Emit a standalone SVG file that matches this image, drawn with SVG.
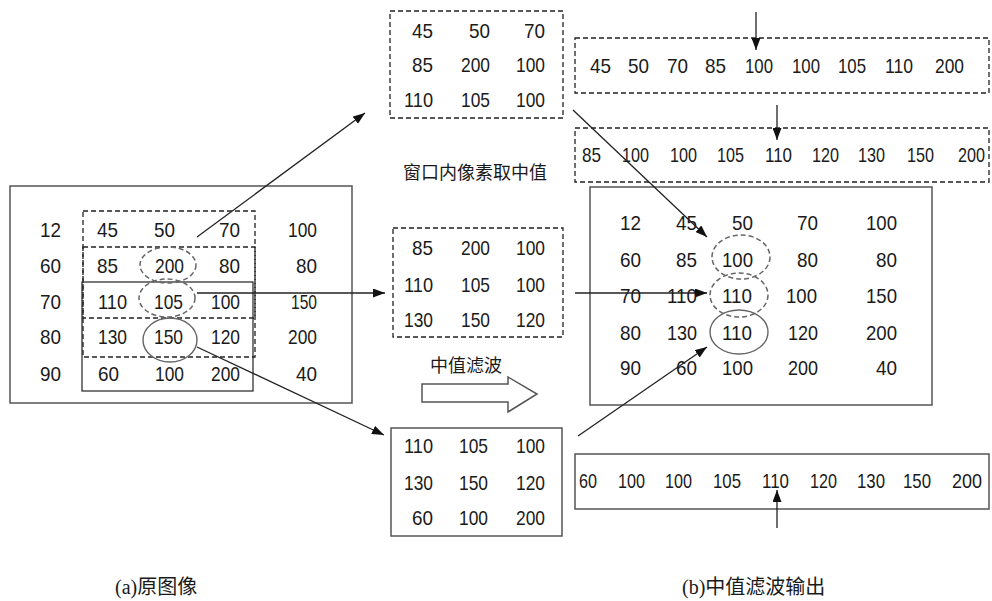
<svg xmlns="http://www.w3.org/2000/svg" width="992" height="601" viewBox="0 0 992 601">
<defs>
<style>
.n{font-family:"Liberation Sans",Arial,sans-serif;font-size:21px;fill:#1a1a1a}
.e{text-anchor:end}
.box{fill:none;stroke:#555;stroke-width:1.5}
.dbox{fill:none;stroke:#222;stroke-width:1.3;stroke-dasharray:5 3}
.cd{fill:none;stroke:#666;stroke-width:1.5;stroke-dasharray:5 3}
.cs{fill:none;stroke:#666;stroke-width:1.4}
.ln{fill:none;stroke:#222;stroke-width:1.3;marker-end:url(#ah)}
.cj{font-family:"Noto Sans CJK SC",sans-serif;font-size:18px;fill:#1a1a1a}
.cap{font-family:"Liberation Serif","Noto Sans CJK SC",serif;font-size:20px;fill:#1a1a1a}
</style>
<marker id="ah" markerUnits="userSpaceOnUse" markerWidth="13" markerHeight="9" refX="12" refY="4.5" orient="auto">
<path d="M0,0 L12,4.5 L0,9 z" fill="#111"/>
</marker>
</defs>
<rect width="992" height="601" fill="#fff"/>

<g id="left-image">
<rect class="box" x="10" y="186" width="342" height="217"/>
<rect class="box" x="82" y="282" width="171" height="109" style="stroke:#333;stroke-width:1.3"/>
<rect class="dbox" x="83" y="211" width="172" height="107"/>
<rect class="dbox" x="83" y="247" width="172" height="110"/>
<ellipse class="cd" cx="168" cy="265" rx="28" ry="18"/>
<ellipse class="cd" cx="167" cy="298" rx="28" ry="19"/>
<ellipse class="cs" cx="170" cy="340" rx="27" ry="22"/>
<g class="n">
<text x="40" y="237" textLength="21" lengthAdjust="spacingAndGlyphs">12</text>
<text x="97" y="237" textLength="21" lengthAdjust="spacingAndGlyphs">45</text>
<text x="154" y="237" textLength="21" lengthAdjust="spacingAndGlyphs">50</text>
<text class="e" x="240" y="237" textLength="21" lengthAdjust="spacingAndGlyphs">70</text>
<text class="e" x="317" y="237" textLength="29" lengthAdjust="spacingAndGlyphs">100</text>
<text x="40" y="273" textLength="21" lengthAdjust="spacingAndGlyphs">60</text>
<text x="97" y="273" textLength="21" lengthAdjust="spacingAndGlyphs">85</text>
<text x="155" y="273" textLength="29" lengthAdjust="spacingAndGlyphs">200</text>
<text class="e" x="240" y="273" textLength="21" lengthAdjust="spacingAndGlyphs">80</text>
<text class="e" x="317" y="273" textLength="21" lengthAdjust="spacingAndGlyphs">80</text>
<text x="40" y="309" textLength="21" lengthAdjust="spacingAndGlyphs">70</text>
<text x="98" y="309" textLength="29" lengthAdjust="spacingAndGlyphs">110</text>
<text x="154" y="309" textLength="29" lengthAdjust="spacingAndGlyphs">105</text>
<text class="e" x="240" y="309" textLength="29" lengthAdjust="spacingAndGlyphs">100</text>
<text class="e" x="317" y="309" textLength="26" lengthAdjust="spacingAndGlyphs">150</text>
<text x="40" y="344" textLength="21" lengthAdjust="spacingAndGlyphs">80</text>
<text x="98" y="344" textLength="29" lengthAdjust="spacingAndGlyphs">130</text>
<text x="154" y="344" textLength="29" lengthAdjust="spacingAndGlyphs">150</text>
<text class="e" x="240" y="344" textLength="29" lengthAdjust="spacingAndGlyphs">120</text>
<text class="e" x="317" y="344" textLength="29" lengthAdjust="spacingAndGlyphs">200</text>
<text x="40" y="381" textLength="21" lengthAdjust="spacingAndGlyphs">90</text>
<text x="98" y="381" textLength="21" lengthAdjust="spacingAndGlyphs">60</text>
<text x="155" y="381" textLength="29" lengthAdjust="spacingAndGlyphs">100</text>
<text class="e" x="240" y="381" textLength="29" lengthAdjust="spacingAndGlyphs">200</text>
<text class="e" x="317" y="381" textLength="21" lengthAdjust="spacingAndGlyphs">40</text>
</g>
</g>

<g id="window-top">
<rect class="dbox" x="390" y="11" width="173" height="107"/>
<g class="n e">
<text x="433" y="38" textLength="21" lengthAdjust="spacingAndGlyphs">45</text>
<text x="490" y="38" textLength="21" lengthAdjust="spacingAndGlyphs">50</text>
<text x="545" y="38" textLength="21" lengthAdjust="spacingAndGlyphs">70</text>
<text x="433" y="72" textLength="21" lengthAdjust="spacingAndGlyphs">85</text>
<text x="490" y="72" textLength="29" lengthAdjust="spacingAndGlyphs">200</text>
<text x="545" y="72" textLength="29" lengthAdjust="spacingAndGlyphs">100</text>
<text x="433" y="107" textLength="29" lengthAdjust="spacingAndGlyphs">110</text>
<text x="490" y="107" textLength="29" lengthAdjust="spacingAndGlyphs">105</text>
<text x="545" y="107" textLength="29" lengthAdjust="spacingAndGlyphs">100</text>
</g>
</g>

<g id="window-middle">
<rect class="dbox" x="393" y="228" width="170" height="109"/>
<g class="n e">
<text x="433" y="255" textLength="21" lengthAdjust="spacingAndGlyphs">85</text>
<text x="490" y="255" textLength="29" lengthAdjust="spacingAndGlyphs">200</text>
<text x="545" y="255" textLength="29" lengthAdjust="spacingAndGlyphs">100</text>
<text x="433" y="292" textLength="29" lengthAdjust="spacingAndGlyphs">110</text>
<text x="490" y="292" textLength="29" lengthAdjust="spacingAndGlyphs">105</text>
<text x="545" y="292" textLength="29" lengthAdjust="spacingAndGlyphs">100</text>
<text x="433" y="327" textLength="29" lengthAdjust="spacingAndGlyphs">130</text>
<text x="490" y="327" textLength="29" lengthAdjust="spacingAndGlyphs">150</text>
<text x="545" y="327" textLength="29" lengthAdjust="spacingAndGlyphs">120</text>
</g>
</g>

<g id="window-bottom">
<rect class="box" x="391" y="428" width="171" height="108"/>
<g class="n e">
<text x="433" y="453" textLength="29" lengthAdjust="spacingAndGlyphs">110</text>
<text x="488" y="453" textLength="29" lengthAdjust="spacingAndGlyphs">105</text>
<text x="545" y="453" textLength="29" lengthAdjust="spacingAndGlyphs">100</text>
<text x="433" y="490" textLength="29" lengthAdjust="spacingAndGlyphs">130</text>
<text x="488" y="490" textLength="29" lengthAdjust="spacingAndGlyphs">150</text>
<text x="545" y="490" textLength="29" lengthAdjust="spacingAndGlyphs">120</text>
<text x="433" y="525" textLength="21" lengthAdjust="spacingAndGlyphs">60</text>
<text x="488" y="525" textLength="29" lengthAdjust="spacingAndGlyphs">100</text>
<text x="545" y="525" textLength="29" lengthAdjust="spacingAndGlyphs">200</text>
</g>
</g>

<g id="label-window">
<text class="cj" x="403" y="179">窗口内像素取中值</text>
</g>

<g id="label-filter">
<text class="cj" x="430" y="372">中值滤波</text>
<polygon points="422,384 508,384 508,377 537,394 508,412 508,402 422,402" fill="#fff" stroke="#555" stroke-width="1.5"/>
</g>

<g id="sorted-1">
<rect class="dbox" x="575" y="38" width="414" height="55"/>
<g class="n">
<text x="590" y="73" textLength="21" lengthAdjust="spacingAndGlyphs">45</text>
<text x="628" y="73" textLength="21" lengthAdjust="spacingAndGlyphs">50</text>
<text x="667" y="73" textLength="21" lengthAdjust="spacingAndGlyphs">70</text>
<text x="705" y="73" textLength="21" lengthAdjust="spacingAndGlyphs">85</text>
<text x="745" y="73" textLength="28" lengthAdjust="spacingAndGlyphs">100</text>
<text x="792" y="73" textLength="28" lengthAdjust="spacingAndGlyphs">100</text>
<text x="838" y="73" textLength="28" lengthAdjust="spacingAndGlyphs">105</text>
<text x="885" y="73" textLength="28" lengthAdjust="spacingAndGlyphs">110</text>
<text x="935" y="73" textLength="29" lengthAdjust="spacingAndGlyphs">200</text>
</g>
</g>

<g id="sorted-2">
<rect class="dbox" x="575" y="128" width="414" height="54"/>
<g class="n">
<text x="582" y="162" textLength="19" lengthAdjust="spacingAndGlyphs">85</text>
<text x="622" y="162" textLength="27" lengthAdjust="spacingAndGlyphs">100</text>
<text x="670" y="162" textLength="27" lengthAdjust="spacingAndGlyphs">100</text>
<text x="717" y="162" textLength="27" lengthAdjust="spacingAndGlyphs">105</text>
<text x="765" y="162" textLength="27" lengthAdjust="spacingAndGlyphs">110</text>
<text x="812" y="162" textLength="27" lengthAdjust="spacingAndGlyphs">120</text>
<text x="858" y="162" textLength="27" lengthAdjust="spacingAndGlyphs">130</text>
<text x="907" y="162" textLength="27" lengthAdjust="spacingAndGlyphs">150</text>
<text x="958" y="162" textLength="27" lengthAdjust="spacingAndGlyphs">200</text>
</g>
</g>

<g id="sorted-3">
<rect class="box" x="575" y="454" width="414" height="55"/>
<g class="n">
<text x="579" y="488" textLength="18" lengthAdjust="spacingAndGlyphs">60</text>
<text x="618" y="488" textLength="27" lengthAdjust="spacingAndGlyphs">100</text>
<text x="665" y="488" textLength="27" lengthAdjust="spacingAndGlyphs">100</text>
<text x="713" y="488" textLength="28" lengthAdjust="spacingAndGlyphs">105</text>
<text x="762" y="488" textLength="27" lengthAdjust="spacingAndGlyphs">110</text>
<text x="810" y="488" textLength="27" lengthAdjust="spacingAndGlyphs">120</text>
<text x="857" y="488" textLength="28" lengthAdjust="spacingAndGlyphs">130</text>
<text x="903" y="488" textLength="28" lengthAdjust="spacingAndGlyphs">150</text>
<text x="952" y="488" textLength="30" lengthAdjust="spacingAndGlyphs">200</text>
</g>
</g>

<g id="output-image">
<rect class="box" x="590" y="187" width="342" height="218"/>
<ellipse class="cd" cx="741" cy="257" rx="29" ry="22"/>
<ellipse class="cd" cx="739" cy="295" rx="29" ry="22"/>
<ellipse class="cs" cx="739" cy="332" rx="29" ry="22"/>
<g class="n">
<text x="620" y="230" textLength="21" lengthAdjust="spacingAndGlyphs">12</text>
<text class="e" x="697" y="230" textLength="21" lengthAdjust="spacingAndGlyphs">45</text>
<text class="e" x="753" y="230" textLength="21" lengthAdjust="spacingAndGlyphs">50</text>
<text class="e" x="818" y="230" textLength="21" lengthAdjust="spacingAndGlyphs">70</text>
<text class="e" x="897" y="230" textLength="31" lengthAdjust="spacingAndGlyphs">100</text>
<text x="620" y="267" textLength="21" lengthAdjust="spacingAndGlyphs">60</text>
<text class="e" x="697" y="267" textLength="21" lengthAdjust="spacingAndGlyphs">85</text>
<text class="e" x="753" y="267" textLength="31" lengthAdjust="spacingAndGlyphs">100</text>
<text class="e" x="818" y="267" textLength="21" lengthAdjust="spacingAndGlyphs">80</text>
<text class="e" x="897" y="267" textLength="21" lengthAdjust="spacingAndGlyphs">80</text>
<text x="620" y="303" textLength="21" lengthAdjust="spacingAndGlyphs">70</text>
<text class="e" x="697" y="303" textLength="30" lengthAdjust="spacingAndGlyphs">110</text>
<text class="e" x="752" y="303" textLength="30" lengthAdjust="spacingAndGlyphs">110</text>
<text class="e" x="817" y="303" textLength="31" lengthAdjust="spacingAndGlyphs">100</text>
<text class="e" x="897" y="303" textLength="31" lengthAdjust="spacingAndGlyphs">150</text>
<text x="620" y="340" textLength="21" lengthAdjust="spacingAndGlyphs">80</text>
<text class="e" x="697" y="340" textLength="30" lengthAdjust="spacingAndGlyphs">130</text>
<text class="e" x="752" y="340" textLength="30" lengthAdjust="spacingAndGlyphs">110</text>
<text class="e" x="818" y="340" textLength="30" lengthAdjust="spacingAndGlyphs">120</text>
<text class="e" x="897" y="340" textLength="31" lengthAdjust="spacingAndGlyphs">200</text>
<text x="620" y="375" textLength="21" lengthAdjust="spacingAndGlyphs">90</text>
<text class="e" x="697" y="375" textLength="21" lengthAdjust="spacingAndGlyphs">60</text>
<text class="e" x="753" y="375" textLength="31" lengthAdjust="spacingAndGlyphs">100</text>
<text class="e" x="818" y="375" textLength="30" lengthAdjust="spacingAndGlyphs">200</text>
<text class="e" x="897" y="375" textLength="21" lengthAdjust="spacingAndGlyphs">40</text>
</g>
</g>

<g id="connectors">
<line class="ln" x1="197" y1="237" x2="365" y2="113"/>
<line class="ln" x1="197" y1="293" x2="385" y2="293"/>
<line class="ln" x1="197" y1="347" x2="384" y2="435"/>
<line class="ln" x1="573" y1="110" x2="707" y2="237"/>
<line class="ln" x1="575" y1="293" x2="707" y2="293"/>
<line class="ln" x1="578" y1="436" x2="707" y2="347"/>
<line class="ln" x1="756" y1="12" x2="756" y2="50"/>
<line class="ln" x1="777" y1="105" x2="777" y2="140"/>
<line class="ln" x1="777" y1="528" x2="777" y2="490"/>
</g>

<g id="caption-a">
<text class="cap" x="115" y="594">(a)原图像</text>
</g>
<g id="caption-b">
<text class="cap" x="682" y="594">(b)中值滤波输出</text>
</g>
</svg>
